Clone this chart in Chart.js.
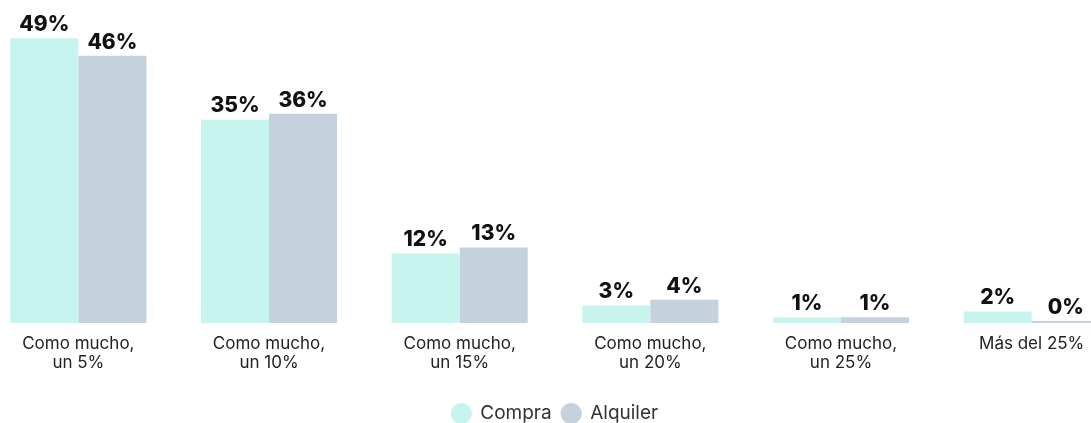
<!DOCTYPE html>
<html lang="es">
<head>
  <meta charset="UTF-8" />
  <title>Compra vs Alquiler</title>
  <script src="https://cdn.jsdelivr.net/npm/chart.js"></script>
  <style>
    html, body { margin: 0; padding: 0; background: #fff; overflow: hidden; height: 423px; }
    .chart-wrap { position: relative; width: 1144px; height: 433px; margin-left: -17px; }
  </style>
</head>
<body>
  <div class="chart-wrap">
    <canvas id="barChart"></canvas>
  </div>

  <script>
    const categories = [
      ['Como mucho,', 'un 5%'],
      ['Como mucho,', 'un 10%'],
      ['Como mucho,', 'un 15%'],
      ['Como mucho,', 'un 20%'],
      ['Como mucho,', 'un 25%'],
      'Más del 25%'
    ];
    const compra = [49, 35, 12, 3, 1, 2];
    const alquiler = [46, 36, 13, 4, 1, 0];

    // draws the bold % label on top of every bar
    const valueLabels = {
      id: 'valueLabels',
      afterDatasetsDraw(chart) {
        const ctx = chart.ctx;
        ctx.save();
        ctx.font = '800 21px Inter';
        ctx.fillStyle = '#111';
        ctx.textAlign = 'center';
        ctx.textBaseline = 'bottom';
        chart.data.datasets.forEach((ds, i) => {
          chart.getDatasetMeta(i).data.forEach((bar, j) => {
            ctx.fillText(ds.data[j] + '%', bar.x, bar.y - 3);
          });
        });
        ctx.restore();
      }
    };

    new Chart(document.getElementById('barChart'), {
      type: 'bar',
      data: {
        labels: categories,
        datasets: [
          { label: 'Compra', data: compra, backgroundColor: '#c8f4f0', borderWidth: 0, minBarLength: 2 },
          { label: 'Alquiler', data: alquiler, backgroundColor: '#c5d2dd', borderWidth: 0, minBarLength: 2 }
        ]
      },
      options: {
        responsive: true,
        maintainAspectRatio: false,
        animation: false,
        categoryPercentage: 0.714,
        barPercentage: 1,
        scales: {
          x: {
            grid: { display: false, drawTicks: false },
            border: { display: false },
            ticks: {
              color: '#222',
              font: { family: 'Inter', size: 17, lineHeight: 1.1 },
              padding: 12,
              maxRotation: 0
            }
          },
          y: { display: false, min: 0, max: 55.6 }
        },
        plugins: {
          tooltip: { enabled: false },
          legend: {
            position: 'bottom',
            // empty title just to push the legend row down
            title: { display: true, text: '', padding: 0, font: { size: 8 } },
            labels: {
              usePointStyle: true,
              pointStyle: 'circle',
              boxHeight: 15,
              color: '#333',
              padding: 10,
              font: { family: 'Inter', size: 19 }
            }
          }
        }
      },
      plugins: [valueLabels]
    });
  </script>
</body>
</html>
